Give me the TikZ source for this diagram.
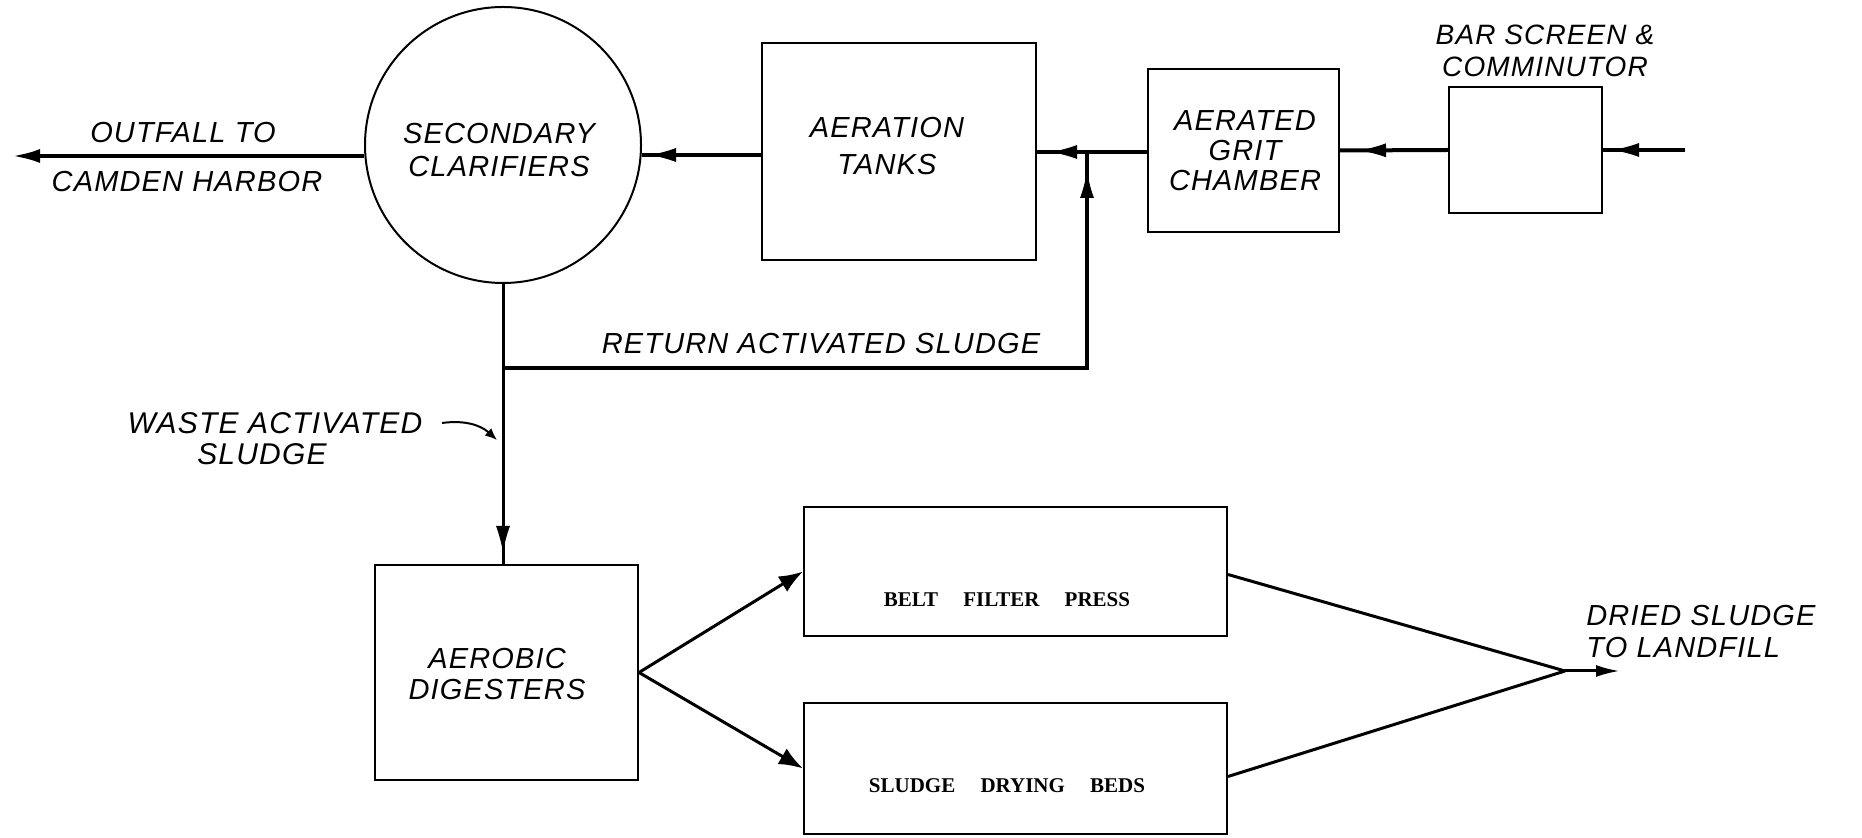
\documentclass[tikz,border=0pt]{standalone}
\usepackage{fontspec}
\setmainfont{Liberation Sans}
\newfontfamily\hand[LetterSpace=4.0]{Liberation Sans}
\newfontfamily\typew{Liberation Serif}
\usetikzlibrary{arrows.meta,decorations.markings}
\tikzset{
  box/.style={draw, rectangle, line width=1pt, inner sep=0pt},
  lbl/.style={font=\hand\itshape\fontsize{14.5}{16}\selectfont, inner sep=0pt},
  tw/.style={font=\typew\bfseries\fontsize{10.5}{12}\selectfont, inner sep=0pt},
  flow/.style={line width=2pt},
  thin/.style={line width=1.5pt},
  endtip/.style={-{Latex[length=13pt,width=7pt]}},
  midtip/.style={postaction={decorate},decoration={markings,
     mark=at position #1 with {\arrow[line width=0.5pt]{Latex[length=13pt,width=7pt]}}}}
}
\begin{document}
\begin{tikzpicture}[x=0.5pt,y=-0.5pt]
\useasboundingbox (0,0) rectangle (1862,838);
\fill[white] (0,0) rectangle (1862,838);

% main nodes
\node[circle, draw, line width=1pt, minimum size=138pt, inner sep=0pt] (clar) at (503,145) {};
\node[lbl, align=center, font=\hand\itshape\fontsize{14.5}{16.5}\selectfont] (clart) at (499,150) {SECONDARY\\CLARIFIERS};

\node[box, minimum width=137pt, minimum height=108.5pt] (aer) at (899,151.5) {};
\node[lbl, align=center, font=\hand\itshape\fontsize{14.5}{18.5}\selectfont] (aert) at (887,146) {AERATION\\TANKS};

\node[box, minimum width=95.5pt, minimum height=81.5pt] (grit) at (1243.5,150.5) {};
\node[lbl, align=center, font=\hand\itshape\fontsize{14.5}{15}\selectfont] (gritt) at (1245,151) {AERATED\\GRIT\\CHAMBER};

\node[box, minimum width=76.5pt, minimum height=63pt] (bar) at (1525.5,150) {};
\node[lbl, align=center, font=\hand\itshape\fontsize{14}{16}\selectfont] (bart) at (1545,51) {BAR SCREEN \&\\COMMINUTOR};

\node[box, minimum width=131.5pt, minimum height=107.5pt] (dig) at (506.5,672.5) {};
\node[lbl, align=center, font=\hand\itshape\fontsize{14.5}{15.5}\selectfont] (digt) at (497,674) {AEROBIC\\DIGESTERS};

\node[box, minimum width=211.5pt, minimum height=64.5pt] (belt) at (1015.5,571.5) {};
\node[tw] (beltt) at (1007,600) {BELT\hspace{1.2em}FILTER\hspace{1.2em}PRESS};

\node[box, minimum width=211.5pt, minimum height=65.5pt] (dry) at (1015.5,768.5) {};
\node[tw] (dryt) at (1007,786) {SLUDGE\hspace{1.2em}DRYING\hspace{1.2em}BEDS};

% labels
\node[lbl] (out1) at (183,133) {OUTFALL TO};
\node[lbl] (out2) at (187,182) {CAMDEN HARBOR};
\node[lbl] (ret) at (821,344) {RETURN ACTIVATED SLUDGE};
\node[lbl, font=\hand\itshape\fontsize{15}{16}\selectfont] (was1) at (275,423) {WASTE ACTIVATED};
\node[lbl, font=\hand\itshape\fontsize{15}{16}\selectfont] (was2) at (262,454) {SLUDGE};
\node[lbl, align=left, anchor=west, font=\hand\itshape\fontsize{14.5}{16}\selectfont] (dried) at (1586,632) {DRIED SLUDGE\\TO LANDFILL};

% coordinates
\coordinate (inflow) at (1685,150);
\coordinate (outfall) at (12,156);
\coordinate (jret) at (clar.south |- 0,368);
\coordinate (jin) at (1087,152);
\coordinate (merge) at (1565,671);
\coordinate (landfill) at (1620,671);

% main flow
\draw[flow, midtip=-5pt] (inflow) -- (bar.east);
\draw[flow, midtip=-10pt] (bar.west) -- (grit.east);
\draw[flow, midtip=-7pt] (grit.west |- jin) -- (aer.east |- jin);
\draw[flow, midtip=-4pt] (aer.west |- 0,155) -- (clar.east |- 0,155);
\draw[flow, -{Latex[length=14pt,width=7pt]}] (clar.west |- 0,156) -- (outfall);

% return / waste sludge
\draw[thin, midtip=-6pt] (clar.south) -- (clar.south |- dig.north);
\draw[flow, midtip=-10pt] (jret) -- (1087,368) -- (jin);

\draw[line width=1pt, -{Latex[length=6pt,width=5pt]}] (442,423) to[bend left=25] (497,440);

% sludge handling
\draw[thin, -{Latex[length=12pt,width=9pt]}] (dig.east) -- (belt.west);
\draw[thin, -{Latex[length=12pt,width=9pt]}] (dig.east) -- (dry.west);
\draw[thin] ([yshift=-1.5pt]belt.east) -- (merge);
\draw[thin] ([yshift=-4pt]dry.east) -- (merge);
\draw[thin, -{Latex[length=12pt,width=6pt]}] (merge) -- (landfill);
\end{tikzpicture}
\end{document}
